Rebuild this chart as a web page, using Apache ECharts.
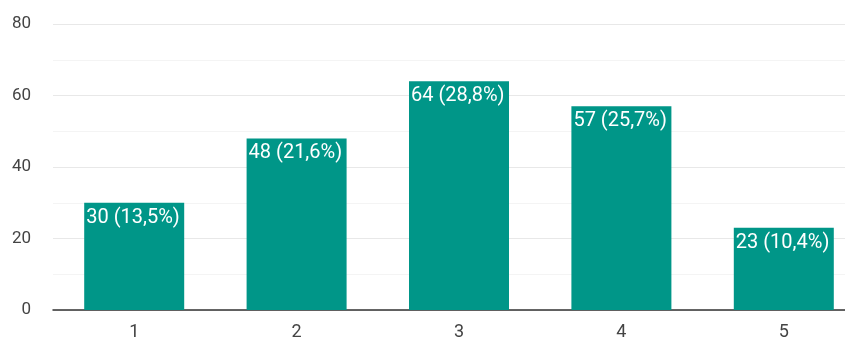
<!DOCTYPE html>
<html>
<head>
<meta charset="utf-8">
<script src="https://cdn.jsdelivr.net/npm/echarts@6/dist/echarts.min.js"></script>
<style>html,body{margin:0;padding:0;background:#fff;overflow:hidden;width:845px;height:341px;}#chart{width:865px;height:341px;}</style>
</head>
<body>
<div id="chart"></div>
<script>
const categories = ['1', '2', '3', '4', '5'];
const counts = [30, 48, 64, 57, 23];
const percentLabels = ['13,5%', '21,6%', '28,8%', '25,7%', '10,4%'];
const yTicks = [0, 20, 40, 60, 80];

const chart = echarts.init(document.getElementById('chart'));
chart.setOption({
  animation: false,
  grid: { left: 53, right: 0, top: 24, bottom: 30 },
  xAxis: {
    type: 'category',
    data: categories,
    axisTick: { show: false },
    axisLine: { lineStyle: { color: '#333', width: 1.5 } },
    axisLabel: { color: '#444', fontSize: 18, fontFamily: 'Roboto, Arial, sans-serif', margin: 13 }
  },
  yAxis: {
    type: 'value',
    min: 0, max: 80, interval: 10,
    axisLine: { show: false },
    axisTick: { show: false },
    axisLabel: {
      color: '#444', fontSize: 17, fontFamily: 'Roboto, Arial, sans-serif', margin: 22,
      formatter: v => yTicks.includes(v) ? String(v) : ''
    },
    splitLine: { lineStyle: { color: ['#e8e8e8', '#f4f4f4'], width: 1 } }
  },
  series: [{
    type: 'bar',
    data: counts,
    barWidth: 100,
    itemStyle: { color: '#009688' },
    label: {
      show: true,
      position: 'insideTopLeft',
      distance: 2,
      offset: [0, 3],
      color: '#fff',
      fontSize: 20,
      fontFamily: 'Roboto, Arial, sans-serif',
      formatter: p => p.value + ' (' + percentLabels[p.dataIndex] + ')'
    }
  }]
});
</script>
</body>
</html>
